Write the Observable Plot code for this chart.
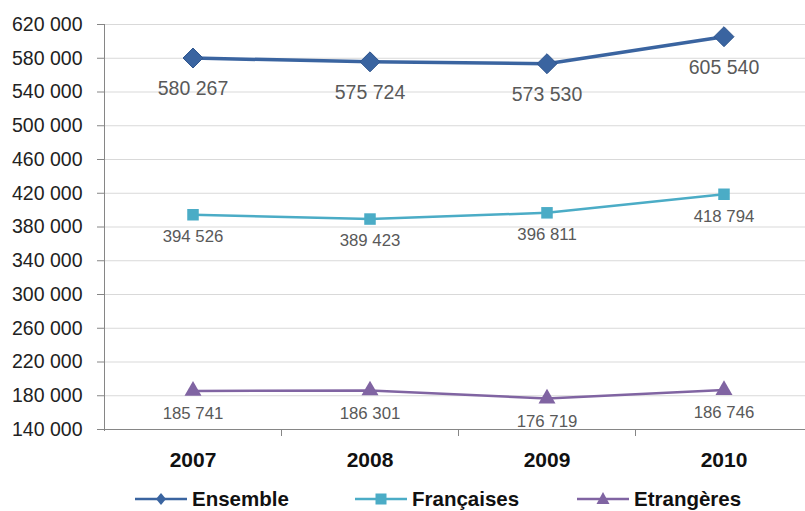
<!DOCTYPE html>
<html><head><meta charset="utf-8">
<script src="https://cdn.jsdelivr.net/npm/d3@7"></script>
<script src="https://cdn.jsdelivr.net/npm/@observablehq/plot@0.6"></script>
<style>
body{margin:0;background:#fff;font-family:"Liberation Sans",Arial,sans-serif;}
#wrap{position:relative;width:805px;height:511px;overflow:hidden;}
.leg{position:absolute;top:488px;display:flex;align-items:center;font-weight:bold;font-size:20.5px;color:#111;line-height:22px;}
.leg svg{margin-right:5px;}
</style></head><body>
<div id="wrap"></div>
<script>
const years = ["2007","2008","2009","2010"];
const ensemble = [580267, 575724, 573530, 605540];
const francaises = [394526, 389423, 396811, 418794];
const etrangeres = [185741, 186301, 176719, 186746];
const seriesNames = ["Ensemble","Françaises","Etrangères"];
const seriesColors = ["#3A64A0","#4BACC6","#8064A2"];
const yTicks = d3.range(140000, 620001, 40000);

const loc = d3.formatLocale({decimal:",", thousands:"\u00a0", grouping:[3], currency:["","€"]});
const fmt = loc.format(",");

const rows = [];
[ensemble, francaises, etrangeres].forEach((arr, si) => {
  arr.forEach((v, i) => rows.push({year: years[i], value: v, series: seriesNames[si]}));
});
const by = s => rows.filter(d => d.series === s);

const chart = Plot.plot({
  width: 805, height: 478,
  marginLeft: 104, marginTop: 24, marginBottom: 49, marginRight: 0,
  style: {fontFamily: '"Liberation Sans", Arial, sans-serif', fontSize: "19.5px", background: "#fff", overflow: "visible"},
  x: {type: "band", domain: years, range: [104, 812], padding: 0, label: null},
  y: {domain: [140000, 620000], ticks: yTicks, label: null},
  marks: [
    Plot.gridY(yTicks.slice(1), {stroke: "#d9d9d9", strokeOpacity: 1, strokeWidth: 1}),
    Plot.axisY(yTicks, {tickSize: 7, tickFormat: fmt, fill: "#222", stroke: "#868686", tickPadding: 15, label: null}),
    Plot.axisX({tickSize: 0, fill: "#111", tickPadding: 23, label: null}),
    Plot.line(by("Ensemble"), {x: "year", y: "value", stroke: seriesColors[0], strokeWidth: 3.5}),
    Plot.line(by("Françaises"), {x: "year", y: "value", stroke: seriesColors[1], strokeWidth: 2.5}),
    Plot.line(by("Etrangères"), {x: "year", y: "value", stroke: seriesColors[2], strokeWidth: 2.5}),
    Plot.dot(by("Ensemble"), {x: "year", y: "value", symbol: "diamond2", r: 9, fill: seriesColors[0], stroke: "#2f568f", strokeWidth: 1}),
    Plot.dot(by("Françaises"), {x: "year", y: "value", symbol: "square", r: 6.5, fill: seriesColors[1]}),
    Plot.dot(by("Etrangères"), {x: "year", y: "value", symbol: "triangle", r: 6.3, fill: seriesColors[2]}),
    Plot.text(by("Ensemble"), {x: "year", y: "value", text: d => fmt(d.value), dy: 31, fontSize: 19.5, fill: "#595959"}),
    Plot.text(by("Françaises"), {x: "year", y: "value", text: d => fmt(d.value), dy: 22, fontSize: 16.8, fill: "#595959"}),
    Plot.text(by("Etrangères"), {x: "year", y: "value", text: d => fmt(d.value), dy: 23, fontSize: 16.8, fill: "#595959"})
  ]
});
const wrap = document.getElementById("wrap");
wrap.appendChild(chart);

const svg = d3.select(chart);
const xs = chart.scale("x");
const ys = chart.scale("y");
const y0 = ys.apply(140000);
const yTop = ys.apply(620000);
// bold x tick labels
svg.selectAll('[aria-label="x-axis tick label"] text').attr("font-weight", "bold").attr("font-size", 21);
// axis lines
const g = svg.append("g").attr("stroke", "#868686").attr("shape-rendering", "crispEdges");
g.append("line").attr("x1", 104).attr("x2", 104).attr("y1", yTop).attr("y2", y0 + 2);
g.append("line").attr("x1", 104).attr("x2", 805).attr("y1", y0).attr("y2", y0);
years.slice(1).forEach(yv => {
  const bx = xs.apply(yv);
  g.append("line").attr("x1", bx).attr("x2", bx).attr("y1", y0).attr("y2", y0 + 7);
});
svg.selectAll('g[aria-label="line"], g[aria-label="dot"], g[aria-label="text"]').raise();

const legendItems = [
  {name: seriesNames[0], color: seriesColors[0], left: 135, sym: "diamond"},
  {name: seriesNames[1], color: seriesColors[1], left: 355, sym: "square"},
  {name: seriesNames[2], color: seriesColors[2], left: 577, sym: "triangle"}
];
legendItems.forEach(it => {
  const div = document.createElement("div");
  div.className = "leg";
  div.style.left = it.left + "px";
  let m = "";
  if (it.sym === "diamond") m = `<path d="M26,5 L31,11 L26,17 L21,11Z" fill="${it.color}"/>`;
  if (it.sym === "square") m = `<rect x="20.5" y="5.5" width="11" height="11" fill="${it.color}"/>`;
  if (it.sym === "triangle") m = `<path d="M26,4 L32.5,16 L19.5,16Z" fill="${it.color}"/>`;
  div.innerHTML = `<svg width="52" height="22"><line x1="0" x2="52" y1="11" y2="11" stroke="${it.color}" stroke-width="2.5"/>${m}</svg><span>${it.name}</span>`;
  wrap.appendChild(div);
});
</script>
</body></html>
